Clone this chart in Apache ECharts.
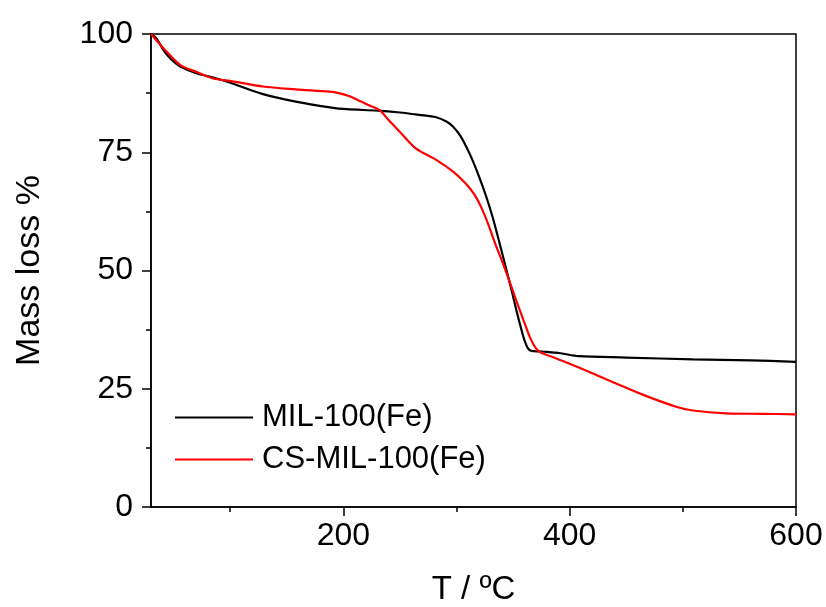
<!DOCTYPE html>
<html>
<head>
<meta charset="utf-8">
<script src="https://cdn.jsdelivr.net/npm/echarts@6/dist/echarts.min.js"></script>
<style>
  html, body { margin: 0; padding: 0; background: #fff; }
  #chart { width: 826px; height: 607px; }
</style>
</head>
<body>
<div id="chart"></div>
<script>
// TGA curves: temperature (°C) and remaining mass (%)
const milTemps = [30, 35, 41, 48, 56, 70, 85, 100, 129, 158, 188, 203, 230, 250, 267, 282, 291, 297, 303, 308.5, 314, 320, 326, 332, 338, 344, 349, 353, 357, 360, 363, 366, 373, 380, 392, 408, 450, 509, 560, 600];
const milMass  = [100, 99.0, 96.6, 94.6, 93.1, 91.7, 90.8, 89.7, 87.3, 85.7, 84.5, 84.1, 83.8, 83.4, 82.9, 82.4, 81.5, 80.4, 78.6, 76.2, 73.4, 69.8, 65.8, 61.2, 55.8, 50.2, 45.5, 41.5, 37.8, 35.3, 33.6, 33.0, 32.9, 32.8, 32.5, 31.9, 31.6, 31.2, 31.0, 30.7];

const csTemps = [30, 41, 56, 70, 85, 100, 129, 158, 188, 196, 205, 213, 222, 232, 240, 250, 264, 282, 297, 308.5, 316, 322, 328, 334, 341, 347, 353, 359, 365, 370, 375, 385, 400, 420, 440, 465, 494, 509, 538, 570, 600];
const csMass  = [100, 97.0, 93.4, 92.0, 90.6, 90.1, 88.9, 88.3, 87.8, 87.5, 86.9, 86.0, 85.0, 83.9, 81.8, 79.3, 75.8, 73.4, 70.9, 68.3, 66.0, 63.3, 59.8, 55.8, 51.5, 47.6, 43.5, 39.6, 35.8, 33.6, 32.6, 31.7, 30.3, 28.3, 26.2, 23.7, 21.2, 20.4, 19.8, 19.7, 19.6];

const seriesNames = ['MIL-100(Fe)', 'CS-MIL-100(Fe)'];
const xMajorTicks = [200, 400, 600];
const xMinorTicks = [100, 300, 500];

const zip = (xs, ys) => xs.map((x, i) => [x, ys[i]]);

const font = 'Liberation Sans, Arial, sans-serif';
const chart = echarts.init(document.getElementById('chart'));
chart.setOption({
  animation: false,
  backgroundColor: '#fff',
  grid: {
    left: 151, right: 30, top: 34, bottom: 100,
    outerBoundsMode: 'none',
    show: true, borderColor: '#000', borderWidth: 1.5, backgroundColor: 'transparent'
  },
  legend: {
    orient: 'vertical',
    left: 170, top: 397,
    icon: 'rect',
    itemWidth: 78, itemHeight: 2, itemGap: 11,
    textStyle: { fontFamily: font, fontSize: 31, color: '#000', padding: [0, 0, 0, 4] },
    data: seriesNames
  },
  xAxis: [{
    type: 'value', min: 30, max: 600,
    name: 'T / ºC', nameLocation: 'middle', nameGap: 66,
    nameTextStyle: { fontFamily: font, fontSize: 33, color: '#000' },
    axisLine: { lineStyle: { color: '#000', width: 1.5 } },
    axisTick: { show: true, length: 9, inside: false, customValues: xMajorTicks, lineStyle: { color: '#000', width: 1.5 } },
    axisLabel: { customValues: xMajorTicks, margin: 13, fontFamily: font, fontSize: 32, color: '#000' },
    splitLine: { show: false }
  }, {
    type: 'value', min: 30, max: 600, position: 'bottom',
    axisLine: { show: false },
    axisTick: { show: true, length: 5, customValues: xMinorTicks, lineStyle: { color: '#000', width: 1.5 } },
    axisLabel: { show: false },
    splitLine: { show: false }
  }],
  yAxis: {
    type: 'value', min: 0, max: 100, interval: 25,
    name: 'Mass loss %', nameLocation: 'middle', nameGap: 104,
    nameTextStyle: { fontFamily: font, fontSize: 34, color: '#000' },
    axisLine: { show: true, lineStyle: { color: '#000', width: 1.5 } },
    axisTick: { show: true, length: 9, lineStyle: { color: '#000', width: 1.5 } },
    minorTick: { show: true, splitNumber: 2, length: 5, lineStyle: { color: '#000', width: 1.5 } },
    axisLabel: { margin: 18, fontFamily: font, fontSize: 32, color: '#000' },
    splitLine: { show: false }
  },
  series: [{
    name: seriesNames[0], type: 'line', xAxisIndex: 0,
    data: zip(milTemps, milMass),
    symbol: 'none', smooth: 0.3,
    lineStyle: { color: '#000', width: 2.2 }, itemStyle: { color: '#000' }
  }, {
    name: seriesNames[1], type: 'line', xAxisIndex: 0,
    data: zip(csTemps, csMass),
    symbol: 'none', smooth: 0.3,
    lineStyle: { color: '#ff0000', width: 2.2 }, itemStyle: { color: '#ff0000' }
  }]
});
</script>
</body>
</html>
